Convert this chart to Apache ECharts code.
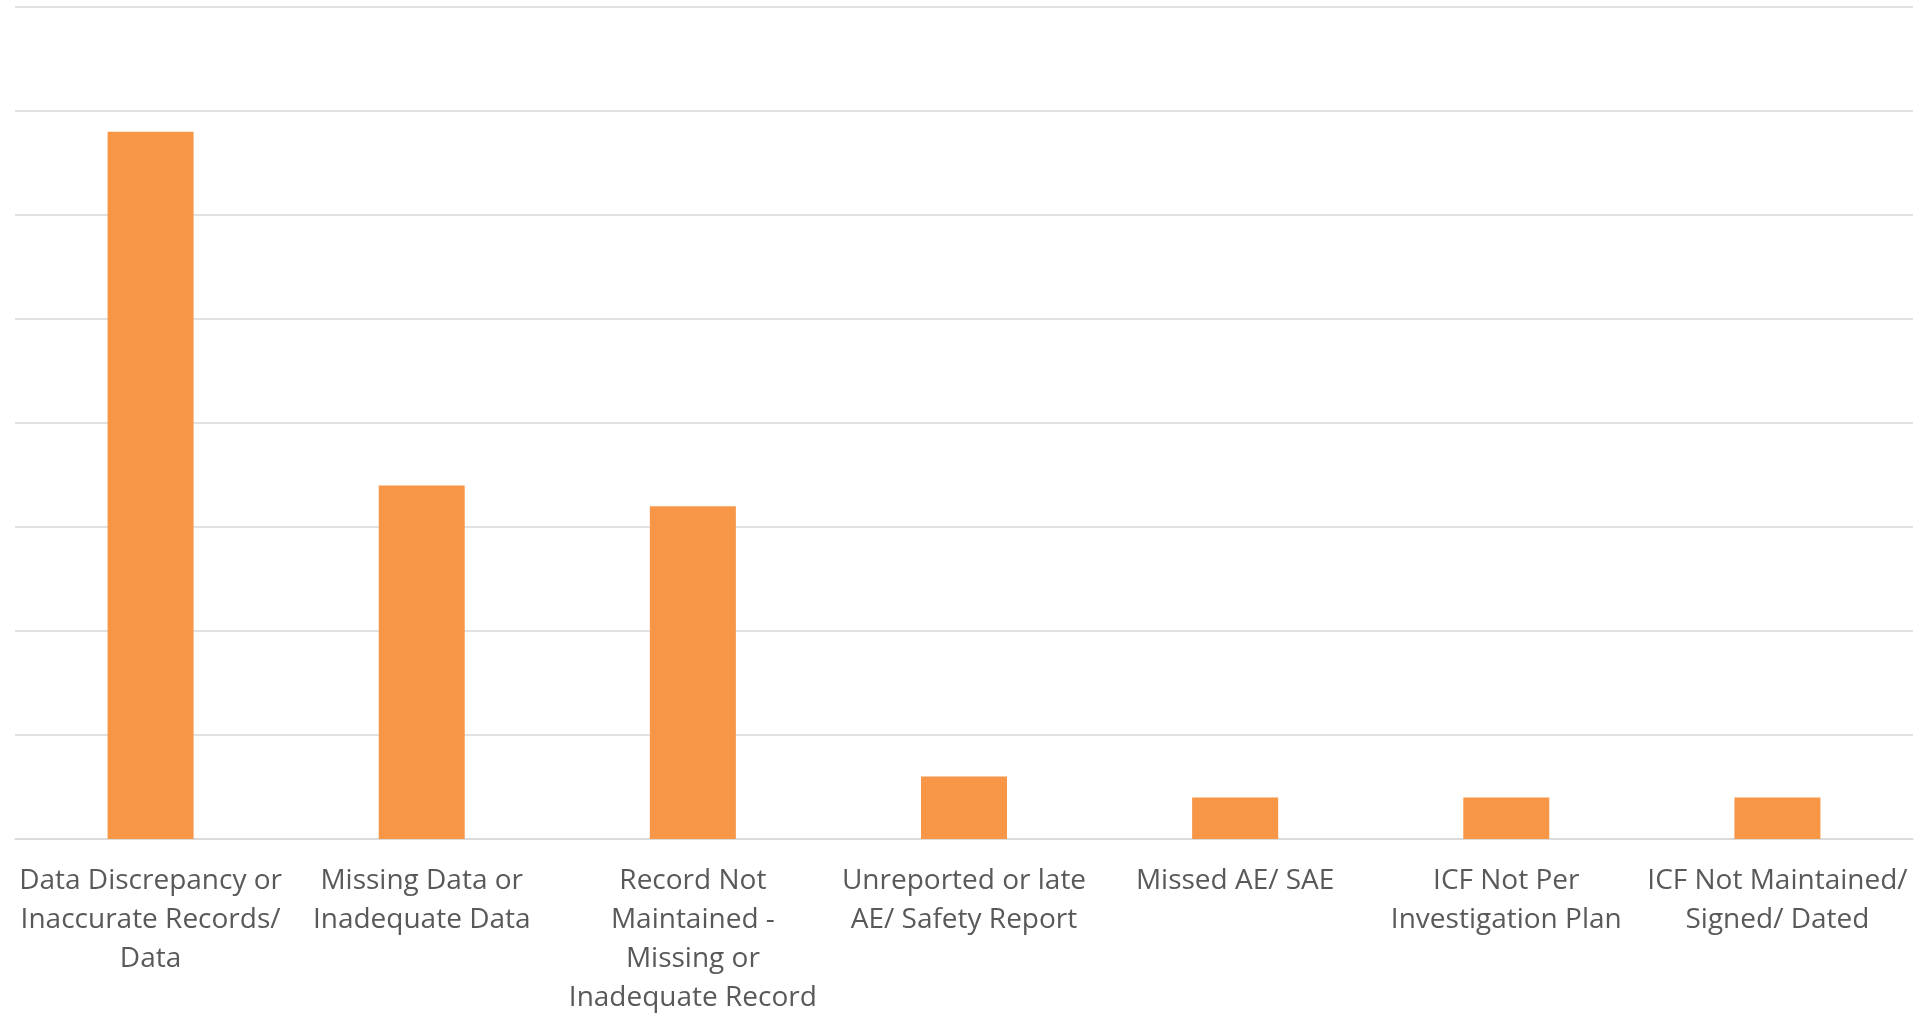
<!DOCTYPE html>
<html>
<head>
<meta charset="utf-8">
<script src="https://cdn.jsdelivr.net/npm/echarts@6/dist/echarts.min.js"></script>
<style>
  html, body { margin: 0; padding: 0; background: #fff; }
  #main { width: 1921px; height: 1015px; }
</style>
</head>
<body>
<div id="main"></div>
<script>
// categories (line breaks as in the picture)
var categories = [
    'Data Discrepancy or\nInaccurate Records/\nData',
    'Missing Data or\nInadequate Data',
    'Record Not\nMaintained -\nMissing or\nInadequate Record',
    'Unreported or late\nAE/ Safety Report',
    'Missed AE/ SAE',
    'ICF Not Per\nInvestigation Plan',
    'ICF Not Maintained/\nSigned/ Dated'
];
var counts = [34, 17, 16, 3, 2, 2, 2];

var yMin = 0, yMax = 40, yStep = 5;

var myChart = echarts.init(document.getElementById('main'));

var option = {
    backgroundColor: '#ffffff',
    animation: false,
    grid: {
        left: 15,
        right: 8,
        top: 7,
        bottom: 176,
        outerBoundsMode: 'none'
    },
    xAxis: {
        type: 'category',
        data: categories,
        axisLine: { lineStyle: { color: '#d9d9d9', width: 1.5 } },
        axisTick: { show: false },
        axisLabel: {
            interval: 0,
            margin: 23,
            color: '#595959',
            fontFamily: 'Open Sans',
            fontSize: 28,
            lineHeight: 39
        }
    },
    yAxis: {
        type: 'value',
        min: yMin,
        max: yMax,
        interval: yStep,
        axisLabel: { show: false },
        axisLine: { show: false },
        axisTick: { show: false },
        splitLine: { lineStyle: { color: '#d9d9d9', width: 1.5 } }
    },
    series: [{
        type: 'bar',
        data: counts,
        barWidth: 86,
        itemStyle: { color: '#f79646' }
    }]
};

myChart.setOption(option);
</script>
</body>
</html>
